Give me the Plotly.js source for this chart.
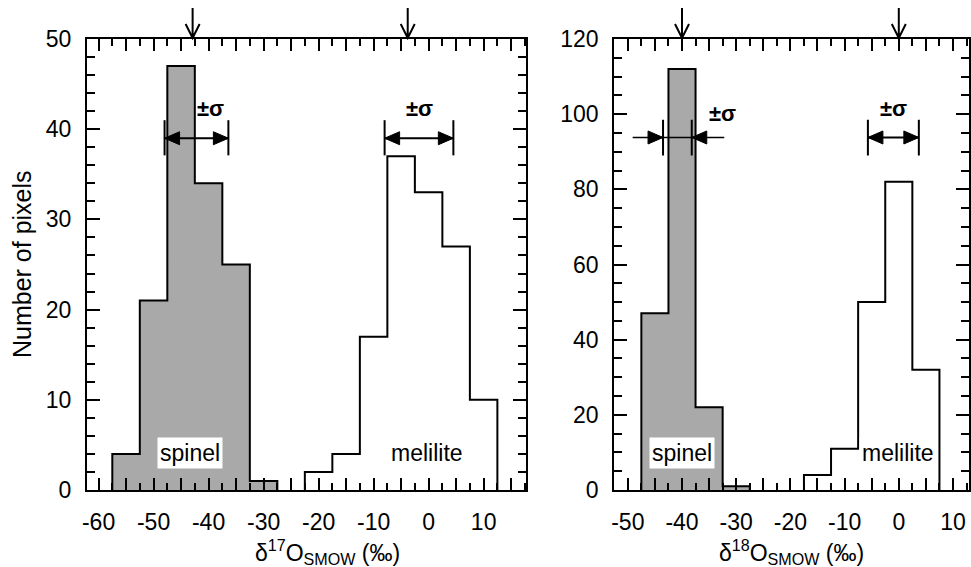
<!DOCTYPE html>
<html>
<head>
<meta charset="utf-8">
<script src="https://cdn.plot.ly/plotly-3.0.1.min.js"></script>
<style>html,body{margin:0;padding:0;background:#fff;}#chart{width:971px;height:567px;}</style>
</head>
<body>
<div id="chart"></div>
<script>
// ---- data ----
const binWidth = 5;
// delta-17O panel
const spinelCenters17 = [-55, -50, -45, -40, -35, -30];
const spinelCounts17  = [4, 21, 47, 34, 25, 1];
const meliliteCenters17 = [-20, -15, -10, -5, 0, 5, 10];
const meliliteCounts17  = [2, 4, 17, 37, 33, 27, 10];
// delta-18O panel
const spinelCenters18 = [-45, -40, -35, -30];
const spinelCounts18  = [47, 112, 22, 1];
const meliliteCenters18 = [-15, -10, -5, 0, 5];
const meliliteCounts18  = [4, 11, 50, 82, 32];

// mean markers (arrows above the frame)
const meanArrows17 = [-42.9, -3.8];
const meanArrows18 = [-40.0, 0.0];
// ±sigma brackets: [low, high, yLevel, barLow, barHigh]
const sigmaSpinel17   = [-48.0, -36.4, 39.0, 37.1, 41.0];
const sigmaMelilite17 = [-8.0, 4.5, 39.0, 37.1, 41.0];
const sigmaSpinel18   = [-43.5, -38.2, 93.8, 89.0, 98.5];
const sigmaSpinelTails18 = [-49.1, -32.2];
const sigmaMelilite18 = [-5.7, 3.7, 93.8, 89.0, 98.5];
// ±sigma label positions [x, y]
const sigmaLabel17 = [[-39.7, 42.3], [-1.7, 42.3]];
const sigmaLabel18 = [[-32.6, 100.3], [-1.05, 101.6]];
// mineral label positions [text, x, y]
const mineralLabels17 = [["spinel", -43.3, 4.1], ["melilite", -0.3, 4.1]];
const mineralLabels18 = [["spinel", -40.0, 9.8], ["melilite", -0.1, 9.8]];

// tick labels (hyphen minus, as in the reference)
const xTickVals17 = [-60, -55, -50, -45, -40, -35, -30, -25, -20, -15, -10, -5, 0, 5, 10, 15];
const xTickText17 = ["-60", "", "-50", "", "-40", "", "-30", "", "-20", "", "-10", "", "0", "", "10", ""];
const xTickVals18 = [-50, -45, -40, -35, -30, -25, -20, -15, -10, -5, 0, 5, 10];
const xTickText18 = ["-50", "", "-40", "", "-30", "", "-20", "", "-10", "", "0", "", "10"];
const yTicks17 = [0, 10, 2];   // [first, major step, minor step]
const yTicks18 = [0, 20, 5];

// ---- helpers ----
function stepXY(centers, counts) {
  const edges = centers.map(c => c - binWidth / 2);
  const last = centers[centers.length - 1] + binWidth / 2;
  const x = [edges[0]].concat(edges, [last]);
  const y = [0].concat(counts, [0]);
  return {x, y};
}
function histTrace(centers, counts, fill, xa, ya) {
  const s = stepXY(centers, counts);
  return {
    type: 'scatter', mode: 'lines', x: s.x, y: s.y,
    line: {shape: 'hv', color: 'black', width: 2},
    fill: 'tozeroy', fillcolor: fill,
    xaxis: xa, yaxis: ya, hoverinfo: 'skip'
  };
}

const FONT = 'Liberation Sans, Arial, Helvetica, sans-serif';
const TICKSIZE = 23;

const traces = [
  histTrace(spinelCenters17, spinelCounts17, '#a9a9a9', 'x', 'y'),
  histTrace(meliliteCenters17, meliliteCounts17, 'rgba(255,255,255,1)', 'x', 'y'),
  histTrace(spinelCenters18, spinelCounts18, '#a9a9a9', 'x2', 'y2'),
  histTrace(meliliteCenters18, meliliteCounts18, 'rgba(255,255,255,1)', 'x2', 'y2')
];

const yDomain = [0.1358, 0.9312];

function xAxis(domain, range, vals, text, anchor) {
  return {
    domain, range, anchor,
    showline: true, linewidth: 2, linecolor: 'black', mirror: 'allticks',
    ticks: 'inside', ticklen: 12, tickwidth: 2, tickcolor: 'black',
    tickmode: 'array', tickvals: vals, ticktext: text,
    minor: {tick0: 0, dtick: 2.5, ticks: 'inside', ticklen: 7, tickwidth: 2, tickcolor: 'black'},
    showgrid: false, zeroline: false, automargin: false,
    ticklabelstandoff: 10,
    tickfont: {family: FONT, size: TICKSIZE, color: 'black'}
  };
}
function yAxis(range, t, anchor) {
  return {
    domain: yDomain, range, anchor,
    showline: true, linewidth: 2, linecolor: 'black', mirror: 'allticks',
    ticks: 'inside', ticklen: 13, tickwidth: 2, tickcolor: 'black',
    tickmode: 'linear', tick0: t[0], dtick: t[1],
    minor: {tick0: 0, dtick: t[2], ticks: 'inside', ticklen: 8, tickwidth: 2, tickcolor: 'black'},
    showgrid: false, zeroline: false, automargin: false,
    ticklabelstandoff: 9,
    tickfont: {family: FONT, size: TICKSIZE, color: 'black'}
  };
}

const annotations = [];
const shapes = [];

// mean arrows on top (open V heads), drawn as pixel-sized path shapes anchored at data x
function meanArrow(x, xref) {
  shapes.push({
    type: 'path', xref, yref: 'paper', xsizemode: 'pixel', ysizemode: 'pixel',
    xanchor: x, yanchor: yDomain[1],
    path: 'M0,1 L0,31 M-7,15 L0,1 L7,15',
    line: {color: 'black', width: 2}, layer: 'above'
  });
}
meanArrows18.forEach(v => meanArrow(v, 'x2'));
meanArrows17.forEach(v => meanArrow(v, 'x'));

// filled triangular arrow head with tip at (x, y); dir = +1 points right, -1 points left
function head(x, y, dir, xref, yref) {
  const L = 15 * dir, H = 6.5;
  shapes.push({
    type: 'path', xref, yref, xsizemode: 'pixel', ysizemode: 'pixel',
    xanchor: x, yanchor: y,
    path: `M0,0 L${-L},${H} L${-L},${-H} Z`,
    fillcolor: 'black', line: {color: 'black', width: 1}, layer: 'above'
  });
}
function hline(x0, x1, y, xref, yref, w) {
  shapes.push({type: 'line', xref, yref, x0, x1, y0: y, y1: y, line: {color: 'black', width: w}, layer: 'above'});
}
function sigmaBars(s, xref, yref) {
  [s[0], s[1]].forEach(v => shapes.push({
    type: 'line', xref, yref, x0: v, x1: v, y0: s[3], y1: s[4],
    line: {color: 'black', width: 2}, layer: 'above'
  }));
}
function outwardBracket(s, xref, yref) {
  sigmaBars(s, xref, yref);
  hline(s[0], s[1], s[2], xref, yref, 2);
  head(s[0], s[2], -1, xref, yref);
  head(s[1], s[2], 1, xref, yref);
}
outwardBracket(sigmaSpinel17, 'x', 'y');
outwardBracket(sigmaMelilite17, 'x', 'y');
outwardBracket(sigmaMelilite18, 'x2', 'y2');
// inward arrows for the narrow spinel sigma in the 18O panel
sigmaBars(sigmaSpinel18, 'x2', 'y2');
hline(sigmaSpinelTails18[0], sigmaSpinelTails18[1], sigmaSpinel18[2], 'x2', 'y2', 1.3);
head(sigmaSpinel18[0], sigmaSpinel18[2], 1, 'x2', 'y2');
head(sigmaSpinel18[1], sigmaSpinel18[2], -1, 'x2', 'y2');

// sigma labels
function textLabel(p, xref, yref) {
  annotations.push({x: p[0], y: p[1], xref, yref, text: '<b>±σ</b>', showarrow: false,
    xanchor: 'center', yanchor: 'middle',
    font: {family: FONT, size: 22, color: 'black'}});
}
sigmaLabel17.forEach(p => textLabel(p, 'x', 'y'));
sigmaLabel18.forEach(p => textLabel(p, 'x2', 'y2'));

// mineral labels
function mineral(m, xref, yref) {
  annotations.push({x: m[1], y: m[2], xref, yref, text: m[0], showarrow: false,
    xanchor: 'center', yanchor: 'middle',
    bgcolor: 'white', borderpad: 2, font: {family: FONT, size: 23, color: 'black'}});
}
mineralLabels17.forEach(m => mineral(m, 'x', 'y'));
mineralLabels18.forEach(m => mineral(m, 'x2', 'y2'));

// axis titles
annotations.push({x: 327 / 971, y: 1 - 552 / 567, xref: 'paper', yref: 'paper', showarrow: false,
  xanchor: 'center', yanchor: 'middle',
  text: 'δ<sup>17</sup>O<sub>SMOW</sub> (‰)', font: {family: FONT, size: 23, color: 'black'}});
annotations.push({x: 791 / 971, y: 1 - 552 / 567, xref: 'paper', yref: 'paper', showarrow: false,
  xanchor: 'center', yanchor: 'middle',
  text: 'δ<sup>18</sup>O<sub>SMOW</sub> (‰)', font: {family: FONT, size: 23, color: 'black'}});
annotations.push({x: 22 / 971, y: 1 - 264 / 567, xref: 'paper', yref: 'paper', showarrow: false,
  xanchor: 'center', yanchor: 'middle',
  textangle: -90, text: 'Number of pixels', font: {family: FONT, size: 25, color: 'black'}});

const layout = {
  width: 971, height: 567,
  margin: {l: 0, r: 0, t: 0, b: 0},
  paper_bgcolor: 'white', plot_bgcolor: 'white',
  showlegend: false,
  xaxis: xAxis([0.0896, 0.5417], [-62.1, 17.7], xTickVals17, xTickText17, 'y'),
  yaxis: yAxis([0, 50], yTicks17, 'x'),
  xaxis2: xAxis([0.6326, 0.9982], [-52.5, 13], xTickVals18, xTickText18, 'y2'),
  yaxis2: yAxis([0, 120], yTicks18, 'x2'),
  shapes, annotations
};

Plotly.newPlot('chart', traces, layout, {displayModeBar: false, staticPlot: true});
</script>
</body>
</html>
